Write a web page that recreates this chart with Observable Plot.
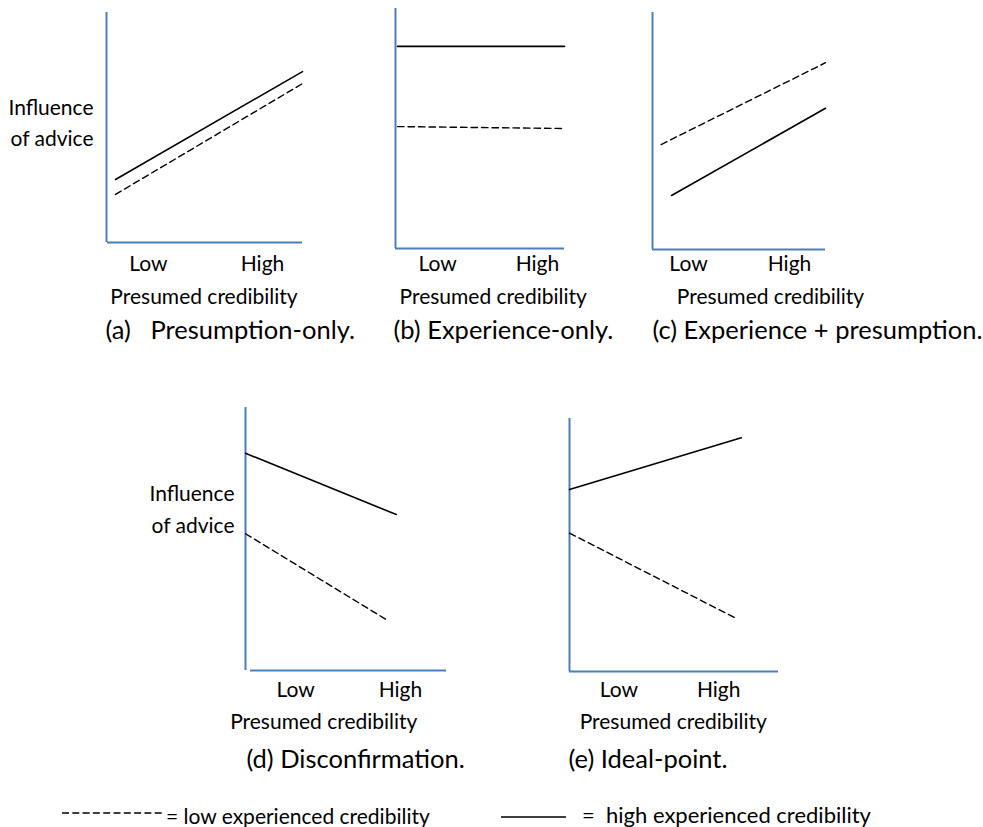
<!DOCTYPE html>
<html>
<head>
<meta charset="utf-8">
<script src="https://cdn.jsdelivr.net/npm/d3@7"></script>
<script src="https://cdn.jsdelivr.net/npm/@observablehq/plot@0.6"></script>
<style>
  html, body { margin: 0; padding: 0; background: #fff; }
  #root { position: relative; width: 983px; height: 827px; font-family: Lato, sans-serif; color: #000; overflow: hidden; }
  .panel { position: absolute; }
  .panel svg { overflow: visible; }
  svg text { white-space: pre; }
  .leg { position: absolute; font-size: 21px; white-space: pre; line-height: 1; }
</style>
</head>
<body>
<div id="root"></div>
<script>
// ---------- data ----------
const panelIds = ["a", "b", "c", "d", "e"];
const captions = ["(a)   Presumption-only.", "(b) Experience-only.", "(c) Experience + presumption.", "(d) Disconfirmation.", "(e) Ideal-point."];
const tickLabels = ["Low", "High"];
const lowTick = [2.14, 2.49, 2.08, 2.49, 2.36];
const highTick = [7.96, 8.4, 7.92, 7.71, 7.14];
const xTitle = "Presumed credibility";
const yTitle = "Influence\nof advice";
const yTitlePanels = ["a", "d"];

// high experienced credibility (solid line): start/end on presumed-credibility axis (0-10) and influence (0-10)
const highExpX0 = [0.46, 0.12, 1.1, 0, 0];
const highExpX1 = [10, 10, 10, 7.5, 8.22];
const highExpY0 = [2.74, 8.42, 2.28, 8.26, 7.19];
const highExpY1 = [7.43, 8.42, 5.96, 5.93, 9.24];
// low experienced credibility (dashed line)
const lowExpX0 = [0.46, 0.12, 0.5, 0, 0];
const lowExpX1 = [10, 9.88, 10, 7.08, 8.02];
const lowExpY0 = [2.09, 5.08, 4.43, 5.2, 5.47];
const lowExpY1 = [6.91, 5.0, 7.88, 1.9, 2.08];

const legendLabels = ["= low experienced credibility", "=  high experienced credibility"];

// ---------- layout (page pixels) ----------
const layout = {
  a: {left: 106, right: 302, top: 12, bottom: 242, xAxisFrom: 0.05, tickPad: 14, titleDx: 97.5, titleDy: 47, capDx: -1, capDy: 78, yDx: -13, yDy: 80},
  b: {left: 395, right: 564, top: 8, bottom: 248, xAxisFrom: 0, tickPad: 8, titleDx: 97.7, titleDy: 41, capDx: -2, capDy: 72},
  c: {left: 652, right: 825, top: 12, bottom: 249, xAxisFrom: 0, tickPad: 7, titleDx: 118, titleDy: 40, capDx: 0, capDy: 71},
  d: {left: 245, right: 446, top: 407, bottom: 670, xAxisFrom: 0.25, tickPad: 12, titleDx: 78.3, titleDy: 44, capDx: 1, capDy: 79, yDx: -11, yDy: 71.6},
  e: {left: 569, right: 778, top: 418, bottom: 671, xAxisFrom: 0, tickPad: 11, titleDx: 103.8, titleDy: 43, capDx: -1, capDy: 78}
};
const AXIS_BLUE = "#4a7ebb";
const M = 10;

const root = document.getElementById("root");

panelIds.forEach((id, i) => {
  const L = layout[id];
  const w = L.right - L.left, h = L.bottom - L.top;
  const high = [{x: highExpX0[i], y: highExpY0[i]}, {x: highExpX1[i], y: highExpY1[i]}];
  const low = [{x: lowExpX0[i], y: lowExpY0[i]}, {x: lowExpX1[i], y: lowExpY1[i]}];
  const ticks = [lowTick[i], highTick[i]];
  const marks = [
    Plot.ruleX([0], {y1: 0, y2: 10, stroke: AXIS_BLUE, strokeWidth: 2}),
    Plot.ruleY([0], {x1: L.xAxisFrom, x2: 10, stroke: AXIS_BLUE, strokeWidth: 2}),
    Plot.line(low, {x: "x", y: "y", stroke: "#000", strokeWidth: 1.4, strokeDasharray: "6.5,4"}),
    Plot.line(high, {x: "x", y: "y", stroke: "#000", strokeWidth: 1.6}),
    Plot.axisX(ticks, {anchor: "bottom", tickSize: 0, tickPadding: L.tickPad, label: null,
      tickFormat: (d) => d === ticks[0] ? tickLabels[0] : tickLabels[1]}),
    Plot.text([xTitle], {text: (d) => d, frameAnchor: "bottom-left", textAnchor: "middle", lineAnchor: "top",
      dx: L.titleDx, dy: L.titleDy}),
    Plot.text([captions[i]], {text: (d) => d, frameAnchor: "bottom-left", textAnchor: "start", lineAnchor: "top",
      dx: L.capDx, dy: L.capDy, fontSize: 25.5})
  ];
  if (yTitlePanels.includes(id)) {
    marks.push(Plot.text([yTitle], {text: (d) => d, frameAnchor: "top-left", textAnchor: "end", lineAnchor: "top",
      lineHeight: 1.5, dx: L.yDx, dy: L.yDy}));
  }
  const chart = Plot.plot({
    width: w + 2 * M, height: h + 2 * M,
    marginLeft: M, marginRight: M, marginTop: M, marginBottom: M,
    x: {domain: [0, 10]},
    y: {domain: [0, 10], axis: null},
    style: {fontFamily: "Lato, sans-serif", fontSize: "21px", overflow: "visible", background: "transparent", maxWidth: "none", color: "#000"},
    marks
  });
  const div = document.createElement("div");
  div.className = "panel";
  div.style.left = (L.left - M) + "px";
  div.style.top = (L.top - M) + "px";
  div.appendChild(chart);
  root.appendChild(div);
});

// ---------- legend ----------
const ns = "http://www.w3.org/2000/svg";
function legendLine(x1, x2, y, dash) {
  const svg = document.createElementNS(ns, "svg");
  svg.setAttribute("width", x2 - x1);
  svg.setAttribute("height", 4);
  svg.style.position = "absolute";
  svg.style.left = x1 + "px";
  svg.style.top = (y - 2) + "px";
  const ln = document.createElementNS(ns, "line");
  ln.setAttribute("x1", 0); ln.setAttribute("x2", x2 - x1);
  ln.setAttribute("y1", 2); ln.setAttribute("y2", 2);
  ln.setAttribute("stroke", "#000");
  ln.setAttribute("stroke-width", dash ? 1.3 : 1.5);
  if (dash) ln.setAttribute("stroke-dasharray", dash);
  svg.appendChild(ln);
  root.appendChild(svg);
}
function legendText(x, baseline, txt, size) {
  const d = document.createElement("div");
  d.className = "leg";
  d.textContent = txt;
  d.style.fontSize = size + "px";
  d.style.left = x + "px";
  d.style.top = (baseline - 0.81 * size) + "px";
  root.appendChild(d);
}
legendLine(62, 165, 813, "7,3.3");
legendText(166, 822, legendLabels[0], 21);
legendLine(501, 566, 817, null);
legendText(582, 822, legendLabels[1], 22);
</script>
</body>
</html>
